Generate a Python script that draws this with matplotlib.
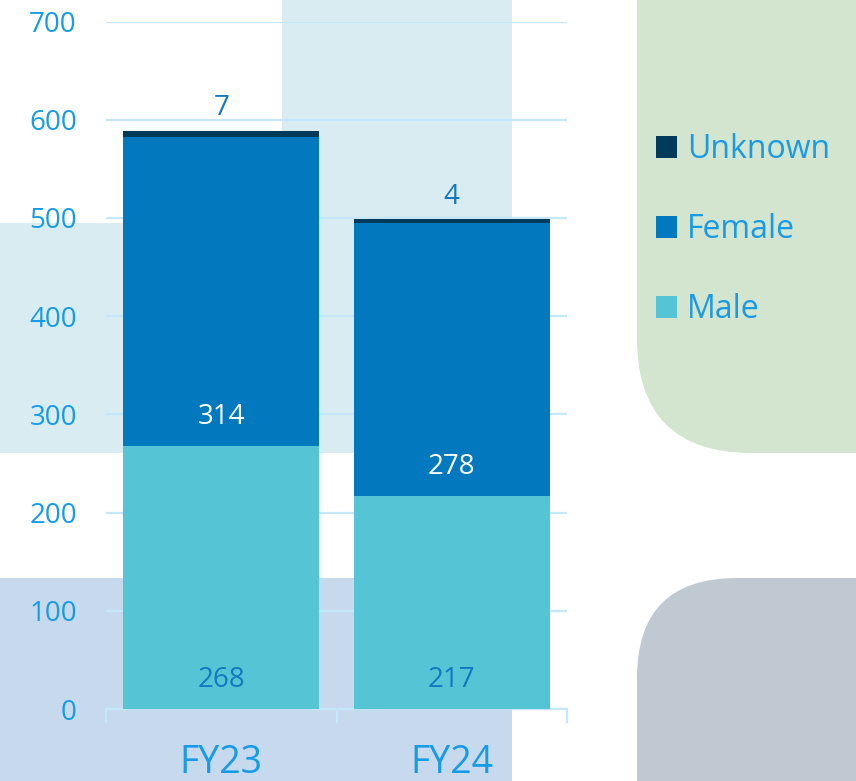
import numpy as np
import matplotlib
matplotlib.use('Agg')
import matplotlib.pyplot as plt
from matplotlib.patches import Rectangle, FancyBboxPatch, Patch

years = ['FY23', 'FY24']
male = [268, 217]
female = [314, 278]
unknown = [7, 4]
series_names = ['Unknown', 'Female', 'Male']

c_male = '#55C5D6'
c_female = '#0279BF'
c_unknown = '#023A5A'
c_text = '#179BE6'
c_label = '#1478C0'
c_grid = '#C6E6F9'

plt.rcParams['font.family'] = ['Open Sans', 'DejaVu Sans']

W, H = 856, 781
fig = plt.figure(figsize=(W / 100, H / 100), dpi=100, facecolor='white')


def add_bg(x0, y0, x1, y1, color, rounding=0):
    # box in pixel coords measured from top-left
    if rounding:
        p = FancyBboxPatch((x0, H - y1), x1 - x0, y1 - y0,
                           boxstyle='round,pad=0,rounding_size=%d' % rounding,
                           transform=None, facecolor=color, edgecolor='none', zorder=-5)
    else:
        p = Rectangle((x0, H - y1), x1 - x0, y1 - y0, transform=None,
                      facecolor=color, edgecolor='none', zorder=-5)
    fig.patches.append(p)


# decorative background blocks
add_bg(282, 0, 512, 453, '#D9ECF1')
add_bg(0, 223, 512, 453, '#D9ECF1')
add_bg(0, 578, 512, H + 10, '#C7D9EC')
add_bg(637, -300, W + 300, 453, '#D3E4CF', rounding=115)
add_bg(637, 578, W + 300, H + 300, '#C0C8D2', rounding=100)

ax = fig.add_axes((106 / W, 1 - 709 / H, (567 - 106) / W, (709 - 21.5) / H))
ax.patch.set_alpha(0)

x = np.arange(len(years))
width = 0.85
male = np.array(male)
female = np.array(female)
unknown = np.array(unknown)

ax.bar(x, male, width, color=c_male, zorder=3, label='Male')
ax.bar(x, female, width, bottom=male, color=c_female, zorder=3, label='Female')
ax.bar(x, unknown, width, bottom=male + female, color=c_unknown, zorder=3, label='Unknown')

for i in range(len(years)):
    ax.annotate(str(male[i]), (x[i], 0), xytext=(0, 21), textcoords='offset points',
                ha='center', va='center', fontsize=20, color=c_label, zorder=5)
    ax.annotate(str(female[i]), (x[i], male[i]), xytext=(0, 21), textcoords='offset points',
                ha='center', va='center', fontsize=20, color='white', zorder=5)
    ax.annotate(str(unknown[i]), (x[i], male[i] + female[i] + unknown[i]), xytext=(0, 16),
                textcoords='offset points', ha='center', va='center', fontsize=20,
                color=c_label, zorder=5)

ax.set_xlim(-0.5, len(years) - 0.5)
ax.set_ylim(0, 700)
ax.set_yticks(np.arange(0, 701, 100))
ax.yaxis.grid(True, color=c_grid, linewidth=1.6, zorder=0)
ax.set_axisbelow(True)
for s in ['top', 'right', 'left']:
    ax.spines[s].set_visible(False)
ax.spines['bottom'].set_color(c_grid)
ax.spines['bottom'].set_linewidth(1.6)

ax.set_xticks(x)
ax.set_xticklabels(years)
ax.set_xticks(np.arange(-0.5, len(years), 1.0), minor=True)
ax.tick_params(axis='x', which='major', length=0, pad=25, labelsize=27, labelcolor=c_text)
ax.tick_params(axis='x', which='minor', length=10, width=1.6, color=c_grid)
ax.tick_params(axis='y', length=0, pad=21, labelsize=20, labelcolor=c_text)

handles = [Patch(facecolor=c_unknown), Patch(facecolor=c_female), Patch(facecolor=c_male)]
leg = fig.legend(handles, series_names, loc='center left',
                 bbox_to_anchor=(656 / W, 1 - 229.5 / H), frameon=False,
                 fontsize=23, handlelength=0.66, handleheight=0.66,
                 handletextpad=0.3, labelspacing=1.47, borderpad=0, borderaxespad=0)
for t in leg.get_texts():
    t.set_color(c_text)

fig.savefig('out.png', dpi=100)
